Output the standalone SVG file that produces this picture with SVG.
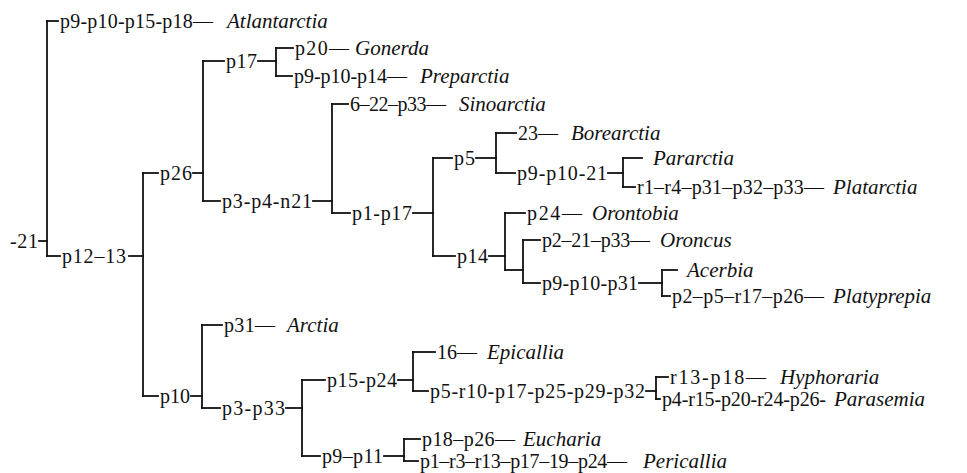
<svg xmlns="http://www.w3.org/2000/svg" width="967" height="473" viewBox="0 0 967 473">
<style>
text{font-family:"Liberation Serif","Times New Roman",serif;font-size:20px;fill:#111}
.s{font-style:italic;font-size:21px}
#connectors line{stroke:#111;stroke-width:1.8;stroke-linecap:square}
</style>
<rect width="967" height="473" fill="#fff"/>
<g id="connectors">
<line x1="47" y1="21" x2="47" y2="256"/>
<line x1="143" y1="173" x2="143" y2="396"/>
<line x1="203" y1="61" x2="203" y2="201"/>
<line x1="276" y1="48" x2="276" y2="76"/>
<line x1="332" y1="104" x2="332" y2="213"/>
<line x1="433" y1="158" x2="433" y2="256"/>
<line x1="496" y1="133" x2="496" y2="173"/>
<line x1="623" y1="158" x2="623" y2="187"/>
<line x1="505" y1="213" x2="505" y2="270"/>
<line x1="523" y1="240" x2="523" y2="283"/>
<line x1="662" y1="270" x2="662" y2="296"/>
<line x1="202" y1="325" x2="202" y2="408"/>
<line x1="302" y1="380" x2="302" y2="456"/>
<line x1="413" y1="352" x2="413" y2="391"/>
<line x1="656" y1="377" x2="656" y2="399"/>
<line x1="404" y1="439" x2="404" y2="461"/>
<line x1="39" y1="241" x2="47" y2="241"/>
<line x1="47" y1="21" x2="58" y2="21"/>
<line x1="47" y1="256" x2="60" y2="256"/>
<line x1="129" y1="256" x2="143" y2="256"/>
<line x1="143" y1="173" x2="158" y2="173"/>
<line x1="193" y1="173" x2="203" y2="173"/>
<line x1="143" y1="396" x2="158" y2="396"/>
<line x1="191" y1="396" x2="202" y2="396"/>
<line x1="203" y1="61" x2="224" y2="61"/>
<line x1="258" y1="61" x2="276" y2="61"/>
<line x1="203" y1="201" x2="220" y2="201"/>
<line x1="313" y1="201" x2="332" y2="201"/>
<line x1="276" y1="48" x2="293" y2="48"/>
<line x1="276" y1="76" x2="292" y2="76"/>
<line x1="332" y1="104" x2="348" y2="104"/>
<line x1="332" y1="213" x2="350" y2="213"/>
<line x1="413" y1="213" x2="433" y2="213"/>
<line x1="433" y1="158" x2="452" y2="158"/>
<line x1="476" y1="158" x2="496" y2="158"/>
<line x1="433" y1="256" x2="455" y2="256"/>
<line x1="489" y1="256" x2="505" y2="256"/>
<line x1="496" y1="133" x2="516" y2="133"/>
<line x1="496" y1="173" x2="515" y2="173"/>
<line x1="608" y1="173" x2="623" y2="173"/>
<line x1="623" y1="158" x2="642" y2="158"/>
<line x1="623" y1="187" x2="635" y2="187"/>
<line x1="505" y1="213" x2="525" y2="213"/>
<line x1="505" y1="270" x2="523" y2="270"/>
<line x1="523" y1="240" x2="540" y2="240"/>
<line x1="523" y1="283" x2="540" y2="283"/>
<line x1="639" y1="283" x2="662" y2="283"/>
<line x1="662" y1="270" x2="677" y2="270"/>
<line x1="662" y1="296" x2="670" y2="296"/>
<line x1="202" y1="325" x2="222" y2="325"/>
<line x1="202" y1="408" x2="220" y2="408"/>
<line x1="286" y1="408" x2="302" y2="408"/>
<line x1="302" y1="380" x2="325" y2="380"/>
<line x1="398" y1="380" x2="413" y2="380"/>
<line x1="302" y1="456" x2="320" y2="456"/>
<line x1="384" y1="456" x2="404" y2="456"/>
<line x1="413" y1="352" x2="435" y2="352"/>
<line x1="413" y1="391" x2="428" y2="391"/>
<line x1="646" y1="391" x2="656" y2="391"/>
<line x1="656" y1="377" x2="668" y2="377"/>
<line x1="656" y1="399" x2="660" y2="399"/>
<line x1="404" y1="439" x2="420" y2="439"/>
<line x1="404" y1="461" x2="418" y2="461"/>
</g>
<g id="n-root"><text x="10" y="248" textLength="28">-21</text></g>
<g id="n-atlantarctia"><text x="60" y="28" textLength="153">p9-p10-p15-p18—</text><text class="s" x="227" y="28">Atlantarctia</text></g>
<g id="n-p12"><text x="62" y="263" textLength="64">p12–13</text></g>
<g id="n-p26"><text x="160" y="180" textLength="32">p26</text></g>
<g id="n-p10"><text x="160" y="403" textLength="30">p10</text></g>
<g id="n-p17"><text x="226" y="68" textLength="31">p17</text></g>
<g id="n-gonerda"><text x="295" y="55" textLength="54">p20—</text><text class="s" x="355" y="55">Gonerda</text></g>
<g id="n-preparctia"><text x="294" y="83" textLength="113">p9-p10-p14—</text><text class="s" x="420" y="83">Preparctia</text></g>
<g id="n-n21"><text x="222" y="208" textLength="90">p3-p4-n21</text></g>
<g id="n-sinoarctia"><text x="350" y="111" textLength="96">6–22–p33—</text><text class="s" x="459" y="111">Sinoarctia</text></g>
<g id="n-p1p17"><text x="352" y="220" textLength="60">p1-p17</text></g>
<g id="n-p5"><text x="454" y="165" textLength="21">p5</text></g>
<g id="n-borearctia"><text x="518" y="140" textLength="40">23—</text><text class="s" x="571" y="140">Borearctia</text></g>
<g id="n-p9p10-21"><text x="517" y="180" textLength="90">p9-p10-21</text></g>
<g id="n-pararctia"><text class="s" x="653" y="165">Pararctia</text></g>
<g id="n-platarctia"><text x="637" y="194" textLength="187">r1–r4–p31–p32–p33—</text><text class="s" x="833" y="194">Platarctia</text></g>
<g id="n-p14"><text x="457" y="263" textLength="31">p14</text></g>
<g id="n-orontobia"><text x="527" y="220" textLength="55">p24—</text><text class="s" x="592" y="220">Orontobia</text></g>
<g id="n-oroncus"><text x="542" y="247" textLength="108">p2–21–p33—</text><text class="s" x="660" y="247">Oroncus</text></g>
<g id="n-p9p10p31"><text x="542" y="290" textLength="96">p9-p10-p31</text></g>
<g id="n-acerbia"><text class="s" x="687" y="277">Acerbia</text></g>
<g id="n-platyprepia"><text x="672" y="303" textLength="152">p2–p5–r17–p26—</text><text class="s" x="833" y="303">Platyprepia</text></g>
<g id="n-arctia"><text x="224" y="332" textLength="51">p31—</text><text class="s" x="287" y="332">Arctia</text></g>
<g id="n-p3p33"><text x="222" y="415" textLength="63">p3-p33</text></g>
<g id="n-p15p24"><text x="327" y="387" textLength="70">p15-p24</text></g>
<g id="n-p9p11"><text x="322" y="463" textLength="61">p9–p11</text></g>
<g id="n-epicallia"><text x="437" y="359" textLength="40">16—</text><text class="s" x="487" y="359">Epicallia</text></g>
<g id="n-p5r10"><text x="430" y="398" textLength="215">p5-r10-p17-p25-p29-p32</text></g>
<g id="n-hyphoraria"><text x="670" y="384" textLength="96">r13-p18—</text><text class="s" x="780" y="384">Hyphoraria</text></g>
<g id="n-parasemia"><text x="662" y="406" textLength="164">p4-r15-p20-r24-p26-</text><text class="s" x="834" y="406">Parasemia</text></g>
<g id="n-eucharia"><text x="422" y="446" textLength="93">p18–p26—</text><text class="s" x="523" y="446">Eucharia</text></g>
<g id="n-pericallia"><text x="420" y="468" textLength="207">p1–r3–r13–p17–19–p24—</text><text class="s" x="643" y="468">Pericallia</text></g>
</svg>
